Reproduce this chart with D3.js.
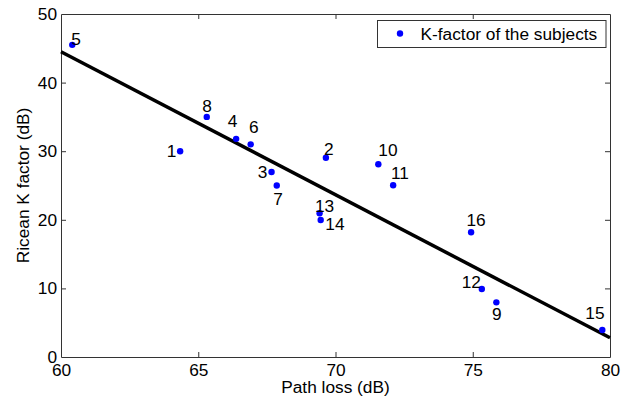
<!DOCTYPE html>
<html>
<head>
<meta charset="utf-8">
<script src="https://cdn.jsdelivr.net/npm/d3@7"></script>
<style>
    body { margin: 0; background: #fff; }
    svg { display: block; font-family: "Liberation Sans", Arial, sans-serif; }
</style>
</head>
<body>
<div id="visContainer"></div>
<script>
// subject number, path loss (dB), Ricean K factor (dB)
const subjects = [1, 2, 3, 4, 5, 6, 7, 8, 9, 10, 11, 12, 13, 14, 15, 16];
const pathLoss = [64.34, 69.65, 67.67, 66.38, 60.41, 66.91, 67.86, 65.31, 75.86, 71.56, 72.10, 75.33, 69.42, 69.46, 79.72, 74.94];
const kFactor = [30.0, 29.05, 26.97, 31.8, 45.5, 31.0, 25.0, 35.0, 7.97, 28.09, 25.03, 9.91, 20.95, 19.97, 3.94, 18.18];

// where the number of each subject is written, in data units
const labelX = [64.03, 69.76, 67.34, 66.25, 60.55, 67.02, 67.91, 65.32, 75.88, 71.91, 72.35, 74.95, 69.60, 69.98, 79.45, 75.12];
const labelY = [30.03, 30.32, 26.97, 34.40, 46.36, 33.63, 23.03, 36.69, 6.27, 30.17, 26.92, 10.98, 22.06, 19.43, 6.46, 19.97];

// fitted line
const fitX = [60, 80];
const fitY = [44.5, 2.8];

const xTicks = [60, 65, 70, 75, 80];
const yTicks = [0, 10, 20, 30, 40, 50];

function renderVisualisation() {
    const width = 631;
    const height = 405;
    const margin = {top: 14, right: 21, bottom: 48, left: 61};
    const axisColor = "#333";

    const x = d3.scaleLinear().domain([60, 80]).range([margin.left, width - margin.right]);
    const y = d3.scaleLinear().domain([0, 50]).range([height - margin.bottom, margin.top]);

    const svg = d3.select('#visContainer').append("svg")
        .attr("width", width)
        .attr("height", height);

    const data = subjects.map((s, i) => ({
        id: s, x: pathLoss[i], y: kFactor[i], lx: labelX[i], ly: labelY[i]
    }));

    // axes, ticks pointing inward on all four sides
    const fontSize = 17.3;
    const bottom = svg.append("g")
        .attr("transform", `translate(0,${y(0)})`)
        .call(d3.axisBottom(x).tickValues(xTicks).tickSizeInner(-5).tickSizeOuter(0).tickPadding(7));
    const top = svg.append("g")
        .attr("transform", `translate(0,${y(50)})`)
        .call(d3.axisTop(x).tickValues(xTicks).tickSizeInner(-5).tickSizeOuter(0).tickFormat(""));
    const left = svg.append("g")
        .attr("transform", `translate(${x(60)},0)`)
        .call(d3.axisLeft(y).tickValues(yTicks).tickSizeInner(-5).tickSizeOuter(0).tickPadding(4));
    const right = svg.append("g")
        .attr("transform", `translate(${x(80)},0)`)
        .call(d3.axisRight(y).tickValues(yTicks).tickSizeInner(-5).tickSizeOuter(0).tickFormat(""));

    [bottom, top, left, right].forEach(g => {
        g.select(".domain").attr("stroke", axisColor);
        g.selectAll(".tick line").attr("stroke", axisColor);
        g.selectAll(".tick text")
            .attr("fill", "#000")
            .style("font-size", fontSize + "px")
            .style("font-family", '"Liberation Sans", Arial, sans-serif');
    });
    // the extreme ticks sit on the frame, hide them
    [bottom, top].forEach(g => g.selectAll(".tick line").filter(d => d === 60 || d === 80).remove());
    [left, right].forEach(g => g.selectAll(".tick line").filter(d => d === 0 || d === 50).remove());

    // fitted line
    svg.append("line")
        .attr("x1", x(fitX[0])).attr("y1", y(fitY[0]))
        .attr("x2", x(fitX[1])).attr("y2", y(fitY[1]))
        .attr("stroke", "#000")
        .attr("stroke-width", 3.5);

    // subjects
    svg.append("g")
        .selectAll("circle")
        .data(data)
        .join("circle")
        .attr("cx", d => x(d.x))
        .attr("cy", d => y(d.y))
        .attr("r", 3.2)
        .attr("fill", "#0000ff");

    svg.append("g")
        .style("font-size", fontSize + "px")
        .attr("text-anchor", "middle")
        .selectAll("text")
        .data(data)
        .join("text")
        .attr("x", d => x(d.lx))
        .attr("y", d => y(d.ly))
        .attr("dy", "0.36em")
        .text(d => d.id);

    // axis labels
    svg.append("text")
        .attr("x", (x(60) + x(80)) / 2)
        .attr("y", 392.5)
        .attr("text-anchor", "middle")
        .style("font-size", fontSize + "px")
        .text("Path loss (dB)");

    svg.append("text")
        .attr("transform", `translate(28.5,${(y(0) + y(50)) / 2}) rotate(-90)`)
        .attr("text-anchor", "middle")
        .style("font-size", fontSize + "px")
        .text("Ricean K factor (dB)");

    // legend
    const legend = svg.append("g");
    legend.append("rect")
        .attr("x", 377.5).attr("y", 20.5)
        .attr("width", 228.5).attr("height", 27)
        .attr("fill", "#fff")
        .attr("stroke", axisColor);
    legend.append("circle")
        .attr("cx", 400).attr("cy", 33.5)
        .attr("r", 3.2)
        .attr("fill", "#0000ff");
    legend.append("text")
        .attr("x", 420.5).attr("y", 33.5)
        .attr("dy", "0.36em")
        .style("font-size", fontSize + "px")
        .text("K-factor of the subjects");
}

renderVisualisation();
</script>
</body>
</html>
